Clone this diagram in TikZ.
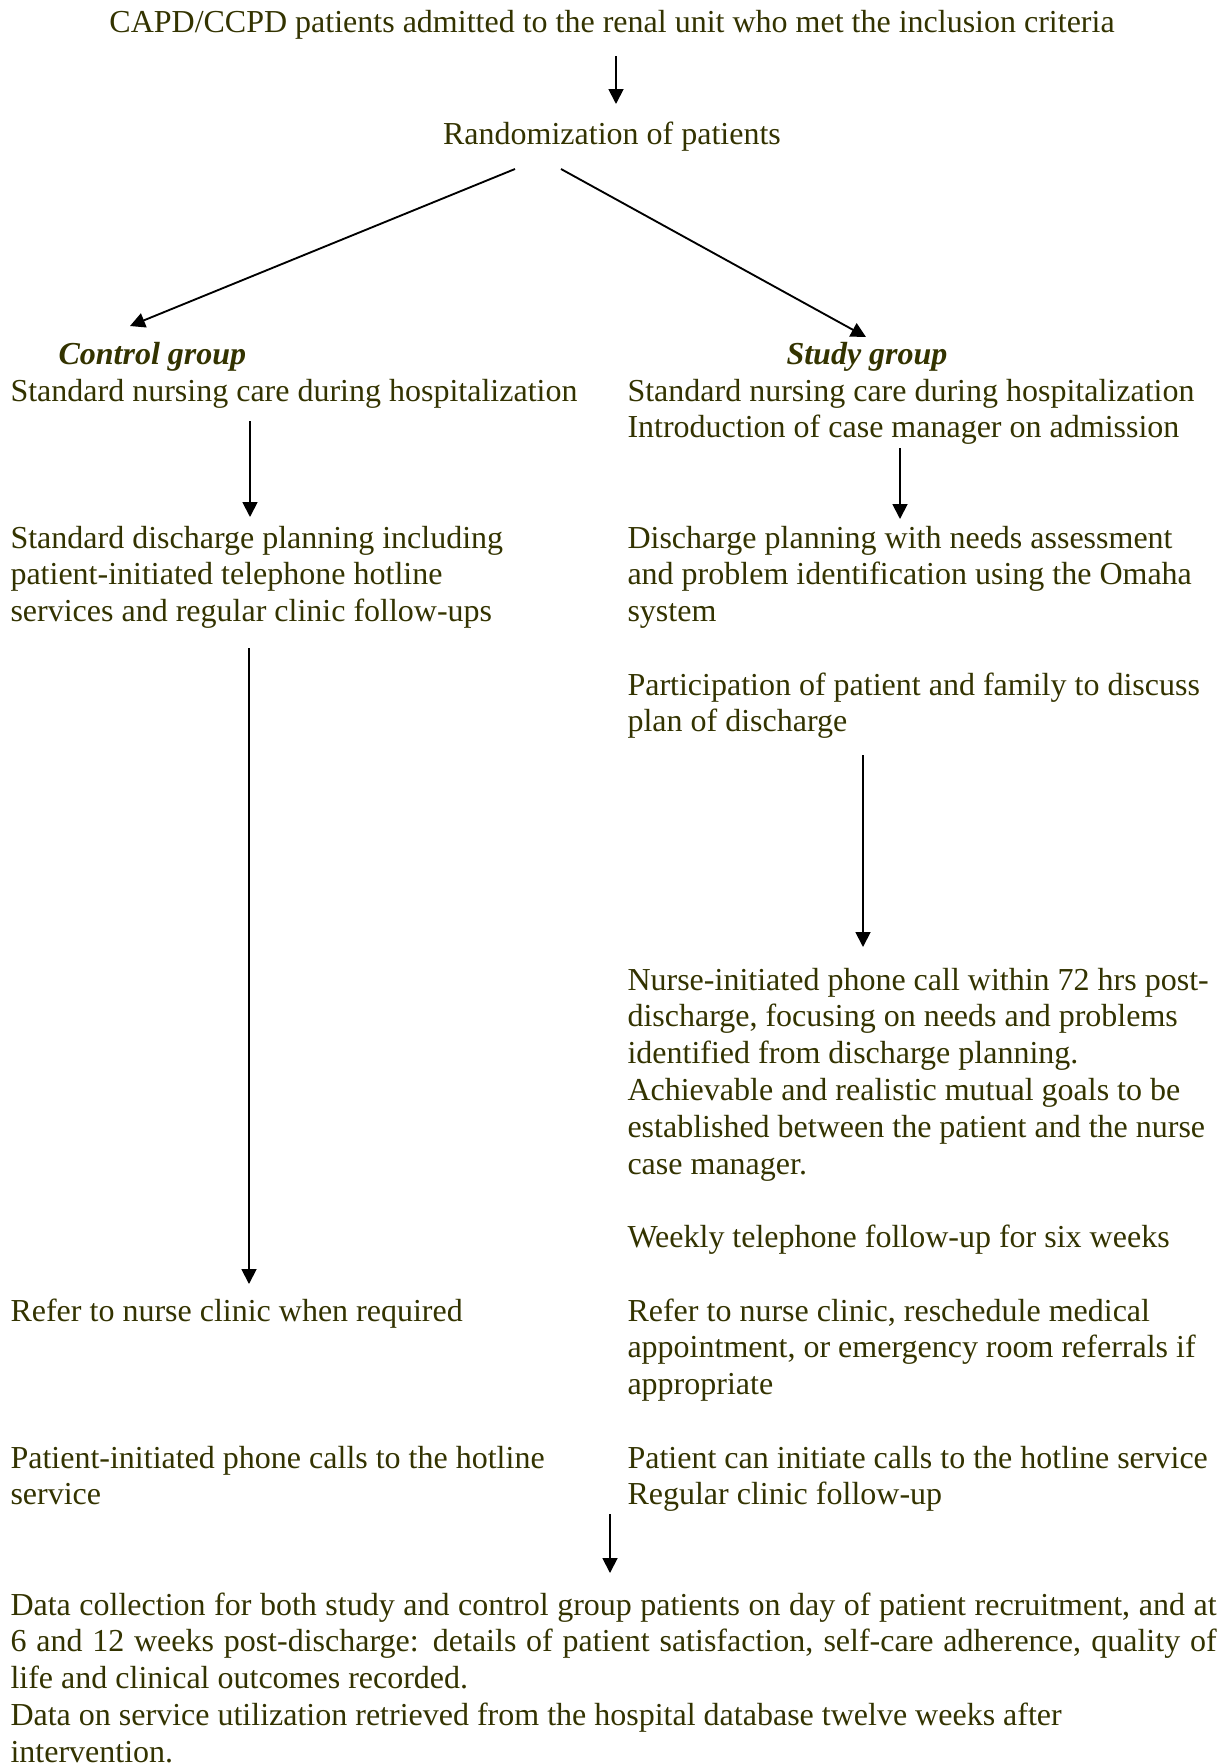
\documentclass[tikz,border=0pt]{standalone}
\usepackage{fontspec}
\setmainfont{Liberation Serif}
\usetikzlibrary{arrows.meta}
\definecolor{olivetext}{RGB}{51,51,0}

\begin{document}
\begin{tikzpicture}[x=0.375pt, y=-0.375pt,
    txt/.style={inner sep=0pt, text=olivetext, font=\fontsize{12}{13.8}\selectfont},
    leftcol/.style={txt, anchor=base west, text width=225pt, align=flush left,
        execute at begin node={\spaceskip=0pt\xspaceskip=0pt}},
    rightcol/.style={leftcol, text width=240pt},
    grouphead/.style={txt, anchor=base west, font=\fontsize{12}{13.8}\selectfont\bfseries\itshape},
    arr/.style={-{Triangle[length=5.6pt, width=5.6pt]}, line width=0.7pt}]
    \useasboundingbox (0,0) rectangle (1225,1764);

    % 入组与随机
    \node[txt, anchor=base] (title) at (612,32) {CAPD/CCPD patients admitted to the renal unit who met the inclusion criteria};
    \node[txt, anchor=base] (rand) at (612,144) {Randomization of patients};

    % 两组标题
    \node[grouphead] (ctlhead) at (58,364) {Control group};
    \node[grouphead] (stdhead) at (786,364) {Study group};

    % 对照组
    \node[leftcol] (ctl1) at (10,401) {Standard nursing care during hospitalization};
    \node[leftcol] (ctl2) at (10,548) {Standard discharge planning including\\patient-initiated telephone hotline\\services and regular clinic follow-ups};
    \node[leftcol] (ctl3) at (10,1321) {Refer to nurse clinic when required};
    \node[leftcol] (ctl4) at (10,1468) {Patient-initiated phone calls to the hotline\\service};

    % 研究组
    \node[rightcol] (std1) at (627,401) {Standard nursing care during hospitalization\\Introduction of case manager on admission};
    \node[rightcol] (std2) at (627,548) {Discharge planning with needs assessment\\and problem identification using the Omaha\\system};
    \node[rightcol] (std3) at (627,695) {Participation of patient and family to discuss\\plan of discharge};
    \node[rightcol] (std4) at (627,990) {Nurse-initiated phone call within 72 hrs post-\\discharge, focusing on needs and problems\\identified from discharge planning.\\Achievable and realistic mutual goals to be\\established between the patient and the nurse\\case manager.};
    \node[rightcol] (std5) at (627,1247) {Weekly telephone follow-up for six weeks};
    \node[rightcol] (std6) at (627,1321) {Refer to nurse clinic, reschedule medical\\appointment, or emergency room referrals if\\appropriate};
    \node[rightcol] (std7) at (627,1468) {Patient can initiate calls to the hotline service\\Regular clinic follow-up};

    % 数据收集
    \node[txt, anchor=base west, text width=452.25pt, align=justify] (data) at (10,1615) {Data collection for both study and control group patients on day of patient recruitment, and at\linebreak 6 and 12 weeks post-discharge: details of patient satisfaction, self-care adherence, quality of\linebreak life and clinical outcomes recorded.\\Data on service utilization retrieved from the hospital database twelve weeks after\\intervention.};

    % 箭头
    \draw[arr] ([shift={(4,24)}]title.base) -- ([shift={(4,-40)}]rand.base);
    \draw[arr] ([shift={(-97,25)}]rand.base) -- ([shift={(72,-38)}]ctlhead.base west);
    \draw[arr] ([shift={(-51,25)}]rand.base) -- ([shift={(80,-27)}]stdhead.base west);
    \draw[arr] ([shift={(240,20)}]ctl1.base west) -- ([shift={(240,-31)}]ctl2.base west);
    \draw[arr] ([shift={(239,100)}]ctl2.base west) -- ([shift={(239,-37)}]ctl3.base west);
    \draw[arr] ([shift={(273,47)}]std1.base west) -- ([shift={(273,-29)}]std2.base west);
    \draw[arr] ([shift={(236,60)}]std3.base west) -- ([shift={(236,-43)}]std4.base west);
    \draw[arr] ([shift={(-17,46)}]std7.base west) -- ([shift={(600,-42)}]data.base west);
\end{tikzpicture}
\end{document}
